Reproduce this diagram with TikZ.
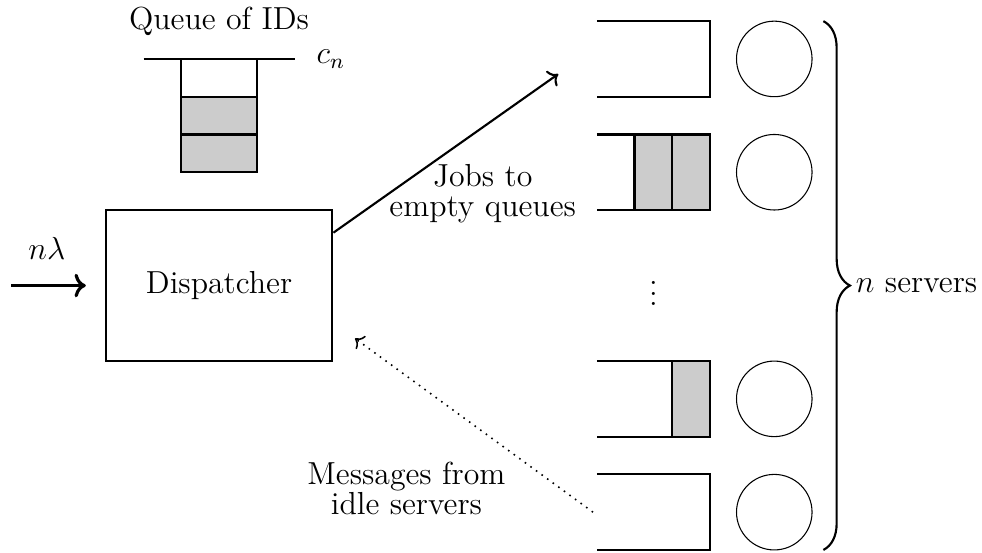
\documentclass[tikz,border=0pt]{standalone}
\usetikzlibrary{arrows.meta,positioning,calc,decorations.pathreplacing}
\definecolor{jobGrey}{HTML}{cccccc}
\tikzset{
  qline/.style={thick},
  job/.style={thick, fill=jobGrey},
  server/.style={circle, draw, thin, minimum size=1cm, inner sep=0pt},
  dispbox/.style={draw, thick, minimum width=3cm, minimum height=2cm},
  lbl/.style={align=center, font=\fontsize{12}{11.3}\selectfont},
  flow/.style={->, thick},
  msg/.style={->, semithick, dotted},
}

\begin{document}
\begin{tikzpicture}[font=\large]
  \useasboundingbox (0,-0.04) rectangle (13.0,7.28);

  % dispatcher with its arrivals
  \node[dispbox] (disp) at (2.9,3.5) {Dispatcher};
  \coordinate (arr) at (0.15,3.5);
  \draw[flow, very thick, shorten >=2.5mm] (arr) -- node[pos=0.38, above=2mm] (rate) {$n\lambda$} (disp.west);

  % queue of IDs kept at the dispatcher
  \draw[qline] (1.9,6.5) -- (3.9,6.5);
  \draw[qline] (2.4,6.5) -- (2.4,5.0) (3.4,6.5) -- (3.4,5.0);
  \draw[job] (2.4,5.0) rectangle (3.4,5.5);
  \draw[job] (2.4,5.5) rectangle (3.4,6.0);
  \node (idq) at (2.9,7.0) {Queue of IDs};
  \node (cn) at (4.38,6.5) {$c_n$};

  % server queues and servers
  \foreach \y [count=\i] in {6.5,5,2,0.5} {
    \coordinate (q\i) at (7.9,\y);
    \draw[qline] (7.9,\y+0.5) -- (9.4,\y+0.5) -- (9.4,\y-0.5) -- (7.9,\y-0.5);
    \node[server] (s\i) at (10.25,\y) {};
  }
  \draw[job] (8.4,4.5) rectangle (8.9,5.5);
  \draw[job] (8.9,4.5) rectangle (9.4,5.5);
  \draw[job] (8.9,1.5) rectangle (9.4,2.5);
  \node (dots) at (8.65,3.5) {$\vdots$};

  \draw[thick, decorate, decoration={brace, amplitude=10pt}]
    (10.9,7) -- (10.9,0) node[midway, right=3mm] (nsrv) {$n$ servers};

  % jobs sent out, idle messages coming back
  \coordinate (jobtip) at (7.39,6.3);
  \draw[flow] ([yshift=7mm]disp.east) -- (jobtip);
  \node[lbl] (joblbl) at (6.39,4.71) {Jobs to\\empty queues};

  \coordinate (msgtip) at (4.7,2.8);
  \draw[msg] ([xshift=-0.5mm]q4) -- (msgtip);
  \node[lbl] (msglbl) at (5.38,0.82) {Messages from\\idle servers};
\end{tikzpicture}
\end{document}
